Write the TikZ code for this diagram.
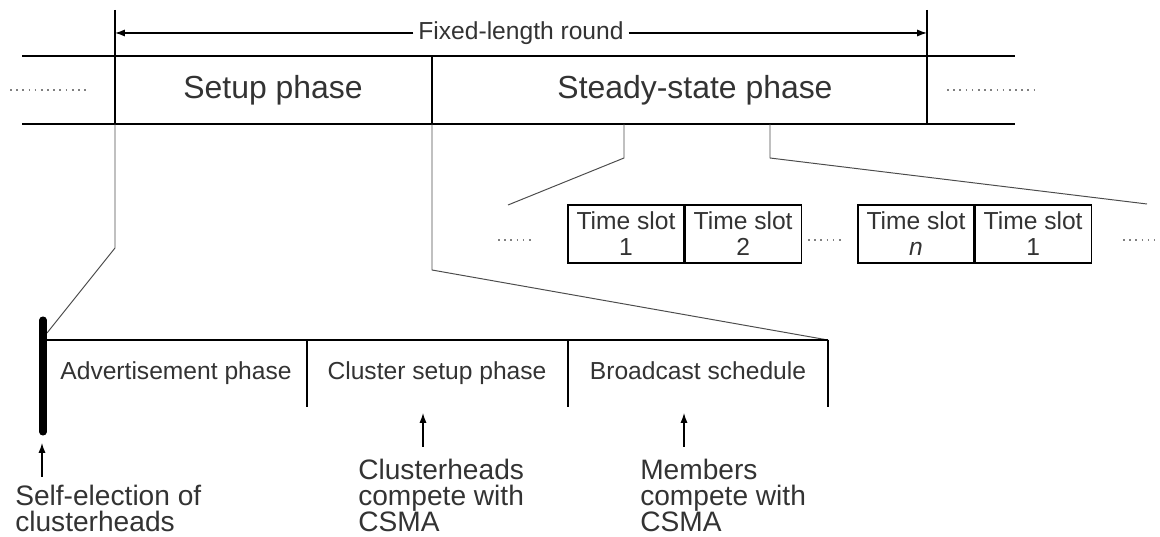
\documentclass[tikz,border=0pt]{standalone}
\usepackage{fontspec}
\setmainfont{Liberation Sans}
\usetikzlibrary{arrows.meta,positioning}

\begin{document}
\begin{tikzpicture}[
		x=0.025cm, y=-0.025cm,
		big/.style={font=\fontsize{22.7}{26}\selectfont, text=black!80},
		mid/.style={font=\fontsize{17.5}{18.5}\selectfont, text=black!80},
		lab/.style={font=\fontsize{20}{18.5}\selectfont, text=black!80, align=left, anchor=north west, inner sep=0pt},
		slot/.style={draw, line width=0.8pt, mid, align=center, minimum width=2.9cm, minimum height=1.45cm, inner sep=0pt},
		edge/.style={line width=0.8pt},
		link/.style={line width=0.7pt, black!70},
		tip/.style={-{Latex[length=7pt,width=5pt]}, line width=0.8pt},
		dots/.style={dash pattern=on 1.2pt off 3.2pt, line width=0.9pt, black!50},
		]
		\useasboundingbox (0,0) rectangle (1160,537);
		
		%round
		\coordinate (rl) at (115,33);
		\coordinate (rr) at (927,33);
		\draw[edge] (115,10) -- (115,124);
		\draw[edge] (927,10) -- (927,124);
		\node[mid] (round) at (521,33) {Fixed-length round};
		\draw[tip] (round) -- (rl);
		\draw[tip] (round) -- (rr);
		
		%phases
		\draw[edge] (22,56) -- (1015,56) (22,124) -- (1015,124);
		\draw[edge] (432,56) -- (432,124);
		\node[big, anchor=base] (setup) at (273,99) {Setup phase};
		\node[big, anchor=base] (steady) at (695,99) {Steady-state phase};
		\draw[dots] (10,90) -- (88,90);
		\draw[dots] (947,90) -- (1035,90);
		
		%time slots
		\node[slot] (s1) at (626,234) {Time slot\\1};
		\node[slot, right=0pt of s1] (s2) {Time slot\\2};
		\node[slot] (sn) at (916,234) {Time slot\\\textit{n}};
		\node[slot, right=0pt of sn] (s1b) {Time slot\\1};
		\draw[dots] (498,240) -- (535,240);
		\draw[dots] (808,240) -- (843,240);
		\draw[dots] (1123,240) -- (1155,240);
		\draw[link] (624,124) -- (624,158) -- (508,205);
		\draw[link] (770,124) -- (770,158) -- (1147,204);
		
		%setup detail
		\draw[link] (115,124) -- (115,248) -- (47,333);
		\draw[link] (432,124) -- (432,270) -- (828,340);
		\draw[edge] (45,340) -- (828,340);
		\foreach \x in {307,568,828}
			\draw[edge] (\x,340) -- (\x,407);
		\draw[line width=5pt, line cap=round] (43,320) -- (43,432);
		\node[mid, anchor=base] (adv) at (176,380) {Advertisement phase};
		\node[mid, anchor=base] (csp) at (437,380) {Cluster setup phase};
		\node[mid, anchor=base] (bcs) at (698,380) {Broadcast schedule};
		
		%labels
		\node[lab] (self) at (15,485) {Self-election of\\clusterheads};
		\node[lab] (heads) at (358,459) {Clusterheads\\compete with\\CSMA};
		\node[lab] (memb) at (640,459) {Members\\compete with\\CSMA};
		\draw[tip] (self.north west -| 42,0) ++(0,-8) -- (42,443);
		\draw[tip] (423,447) -- (423,413);
		\draw[tip] (684,447) -- (684,413);
	\end{tikzpicture}
\end{document}
